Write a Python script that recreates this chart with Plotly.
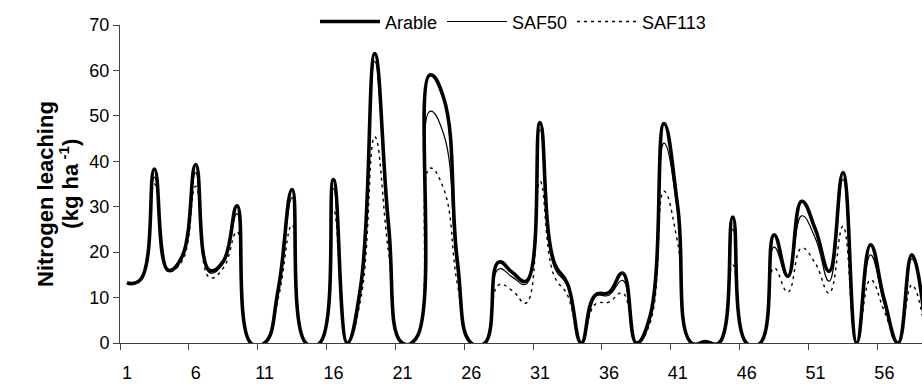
import plotly.graph_objects as go

# ---- data ----
periods = list(range(1, 60))

arable = [13.2, 14, 38.3, 16, 19, 39.3, 16, 18, 30.2, 0,
          0, 12, 33.8, 0, 0, 36, 0, 13, 63.7, 26,
          0, 1, 59, 54, 18, 0, 0, 17.8, 15.5, 13.6,
          48.5, 18, 13, 0, 10.5, 11.1, 15.4, 0, 6, 48.3,
          30, 0, 0.3, 0, 27.7, 0, 0, 23.8, 14.7, 31.2,
          25, 15.8, 37.5, 0, 21.6, 9.5, 0, 19.4, 3]

saf50 = [13.2, 14, 36.5, 16, 18.5, 37.5, 15.5, 17.5, 28.5, 0,
         0, 11.5, 32, 0, 0, 34, 0, 12, 62, 24,
         0, 1, 51, 46, 16, 0, 0, 16.3, 14.5, 13,
         47, 17, 12.5, 0, 10.3, 10.5, 13.8, 0, 5.5, 44,
         29, 0, 0.3, 0, 25, 0, 0, 21.1, 14.5, 28,
         23, 13.6, 36, 0, 19.4, 8.5, 0, 18.5, 3]

saf113 = [13.2, 14, 35, 16, 18, 34.5, 14.4, 16.5, 24.5, 0,
          0, 10, 26, 0, 0, 29.4, 0, 10, 45.4, 20,
          0, 1, 38.5, 34, 13, 0, 0, 12.8, 11.5, 8.8,
          35.6, 15, 10.5, 0, 8.5, 9, 11, 0, 4.5, 33.4,
          22, 0, 0.2, 0, 17.2, 0, 0, 16.5, 11.2, 20.9,
          17.5, 11, 25.7, 0, 13.9, 7, 0, 12.8, 2]

x_tick_labels = ["1", "6", "11", "16", "21", "26", "31", "36", "41", "46", "51", "56"]
y_ticks = [0, 10, 20, 30, 40, 50, 60, 70]

FONT = "Liberation Sans, Arial, sans-serif"
AXIS_COLOR = "#404040"

fig = go.Figure()
series = [
    ("Arable", arable, 3.6, "solid"),
    ("SAF50", saf50, 1.2, "solid"),
    ("SAF113", saf113, 1.4, "3px,4px"),
]
for name, vals, w, dash in series:
    fig.add_trace(go.Scatter(
        x=periods, y=vals, name=name, mode="lines",
        line=dict(color="black", width=w, dash=dash, shape="spline", smoothing=1.3),
    ))

tick_pos = [int(t) - 0.5 for t in x_tick_labels]

fig.update_layout(
    width=922, height=385,
    margin=dict(l=120, r=0, t=25, b=42, autoexpand=False),
    paper_bgcolor="white", plot_bgcolor="white",
    font=dict(family=FONT, color="black", size=18),
    showlegend=True,
    legend=dict(orientation="h", x=0.49, xanchor="center", y=1.01, yanchor="middle",
                bgcolor="rgba(0,0,0,0)", font=dict(size=18), itemwidth=60,
                traceorder="normal"),
    xaxis=dict(range=[0.5, 58.74], tickmode="array", tickvals=tick_pos, ticktext=x_tick_labels,
               ticks="outside", ticklen=6, tickcolor=AXIS_COLOR, showline=True,
               linecolor=AXIS_COLOR, linewidth=1, showgrid=False, zeroline=False,
               ticklabelshift=7, ticklabelstandoff=7, tickfont=dict(size=18),
               automargin=False),
    yaxis=dict(range=[0, 70], tickmode="array", tickvals=y_ticks,
               ticks="outside", ticklen=6, tickcolor=AXIS_COLOR, showline=True,
               linecolor=AXIS_COLOR, linewidth=1, showgrid=False, zeroline=False,
               tickfont=dict(size=18), automargin=False),
    annotations=[
        dict(text="<b>Nitrogen leaching</b>", xref="paper", yref="paper",
             x=-0.093, y=0.47, xanchor="center", yanchor="middle", textangle=-90,
             showarrow=False, font=dict(size=22, family=FONT, color="black")),
        dict(text="<b>(kg ha<sup> -1</sup>)</b>", xref="paper", yref="paper",
             x=-0.064, y=0.50, xanchor="center", yanchor="middle", textangle=-90,
             showarrow=False, font=dict(size=22, family=FONT, color="black")),
    ],
)

fig.write_html("out.html", config={"displayModeBar": False},
               post_script="document.body.style.margin='0';document.body.style.overflow='hidden';")
